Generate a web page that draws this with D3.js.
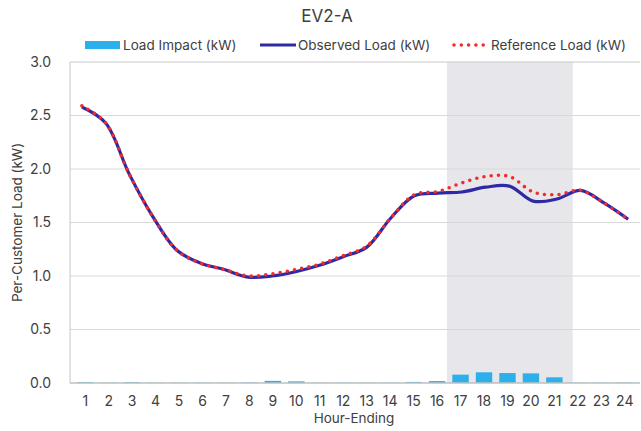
<!DOCTYPE html>
<html>
<head>
<meta charset="utf-8">
<script src="https://cdn.jsdelivr.net/npm/d3@7"></script>
<style>
  body { margin: 0; background: #fff; }
  svg text { font-family: Inter, "Open Sans", sans-serif; fill: #404040; }
</style>
</head>
<body>
<div id="chart"></div>
<script>
// data
const hours = d3.range(1, 25)
const loadImpact = [0.008, 0.003, 0.008, 0.003, 0.003, 0.003, 0.003, 0.005, 0.02, 0.015, 0.003, 0.003,
                    0.003, 0.003, 0.01, 0.018, 0.078, 0.10, 0.093, 0.09, 0.053, 0.003, 0.003, 0.004]
const observed = [2.58, 2.43, 1.95, 1.55, 1.24, 1.12, 1.06, 0.99, 1.00, 1.04, 1.10, 1.18,
                  1.27, 1.54, 1.75, 1.775, 1.785, 1.83, 1.84, 1.70, 1.72, 1.80, 1.68, 1.53]
const reference = [2.59, 2.43, 1.95, 1.55, 1.24, 1.12, 1.06, 1.00, 1.02, 1.06, 1.11, 1.19,
                   1.28, 1.54, 1.76, 1.79, 1.87, 1.93, 1.93, 1.785, 1.76, 1.80, 1.68, 1.53]
const yTicks = [0, 0.5, 1.0, 1.5, 2.0, 2.5, 3.0]
const peakWindow = [16.37, 21.67]

const W = 641, H = 431
const margin = {top: 62, right: 1, bottom: 48, left: 70}

const svg = d3.select("#chart").append("svg")
    .attr("width", W)
    .attr("height", H)

const x = d3.scaleBand().domain(hours).range([margin.left, W - margin.right]).padding(0.3)
const xl = d3.scaleLinear().domain([0.5, 24.5]).range([margin.left, W - margin.right])
const y = d3.scaleLinear().domain([0, 3]).range([H - margin.bottom, margin.top])

// peak window shading
svg.append("rect")
    .attr("x", xl(peakWindow[0]))
    .attr("y", y(3))
    .attr("width", xl(peakWindow[1]) - xl(peakWindow[0]))
    .attr("height", y(0) - y(3))
    .attr("fill", "#e7e7eb")

// gridlines
svg.append("g")
    .selectAll("line")
    .data(yTicks.slice(1, -1))
    .join("line")
    .attr("x1", margin.left).attr("x2", W - margin.right)
    .attr("y1", d => y(d)).attr("y2", d => y(d))
    .attr("stroke", "#d9d9d9")
    .attr("stroke-width", 1)

// frame: top and left
svg.append("line")
    .attr("x1", margin.left).attr("x2", W - margin.right)
    .attr("y1", y(3)).attr("y2", y(3))
    .attr("stroke", "#c8c8c8")
svg.append("line")
    .attr("x1", margin.left).attr("x2", margin.left)
    .attr("y1", y(3)).attr("y2", y(0))
    .attr("stroke", "#c8c8c8")

// bars
svg.append("g")
    .selectAll("rect")
    .data(hours)
    .join("rect")
    .attr("x", d => x(d))
    .attr("width", x.bandwidth())
    .attr("y", (d, i) => y(loadImpact[i]))
    .attr("height", (d, i) => y(0) - y(loadImpact[i]))
    .attr("fill", "#2bb0ec")

// x axis baseline
svg.append("line")
    .attr("x1", margin.left).attr("x2", W - margin.right)
    .attr("y1", y(0)).attr("y2", y(0))
    .attr("stroke", "#bfbfbf")
    .attr("stroke-width", 1.5)

// lines
const line = values => d3.line()
    .x((d, i) => xl(hours[i]))
    .y(d => y(d))
    .curve(d3.curveCatmullRom.alpha(0.5))(values)

svg.append("path")
    .attr("d", line(observed))
    .attr("fill", "none")
    .attr("stroke", "#2f2aa3")
    .attr("stroke-width", 3.2)

svg.append("path")
    .attr("d", line(reference))
    .attr("fill", "none")
    .attr("stroke", "#f22a2a")
    .attr("stroke-width", 3.6)
    .attr("stroke-linecap", "round")
    .attr("stroke-dasharray", "0 7.3")

// y ticks
svg.append("g")
    .selectAll("text")
    .data(yTicks)
    .join("text")
    .attr("x", margin.left - 19)
    .attr("y", d => y(d))
    .attr("dy", "0.35em")
    .attr("text-anchor", "end")
    .style("font-size", "14px")
    .text(d => d.toFixed(1))

// x ticks
svg.append("g")
    .selectAll("text")
    .data(hours)
    .join("text")
    .attr("x", d => x(d) + x.bandwidth() / 2)
    .attr("y", y(0) + 23)
    .attr("text-anchor", "middle")
    .style("font-size", "14px")
    .text(d => d)

// titles
svg.append("text")
    .attr("x", 327).attr("y", 22)
    .attr("text-anchor", "middle")
    .style("font-size", "17px")
    .text("EV2-A")

svg.append("text")
    .attr("x", 354).attr("y", 423)
    .attr("text-anchor", "middle")
    .style("font-size", "13.5px")
    .text("Hour-Ending")

svg.append("text")
    .attr("transform", `translate(22,${(y(0) + y(3)) / 2}) rotate(-90)`)
    .attr("text-anchor", "middle")
    .style("font-size", "13.5px")
    .text("Per-Customer Load (kW)")

// legend
const lg = svg.append("g").attr("transform", "translate(0,45)")
lg.append("rect").attr("x", 85).attr("y", -4).attr("width", 35).attr("height", 8).attr("fill", "#2bb0ec")
lg.append("text").attr("x", 123).attr("dy", "0.35em").style("font-size", "13.5px").text("Load Impact (kW)")
lg.append("line").attr("x1", 260).attr("x2", 296).attr("stroke", "#2f2aa3").attr("stroke-width", 3.2)
lg.append("text").attr("x", 298).attr("dy", "0.35em").style("font-size", "13.5px").text("Observed Load (kW)")
lg.append("line").attr("x1", 454).attr("x2", 486).attr("stroke", "#f22a2a").attr("stroke-width", 3.6)
    .attr("stroke-linecap", "round").attr("stroke-dasharray", "0 7.3")
lg.append("text").attr("x", 491).attr("dy", "0.35em").style("font-size", "13.5px").text("Reference Load (kW)")
</script>
</body>
</html>
